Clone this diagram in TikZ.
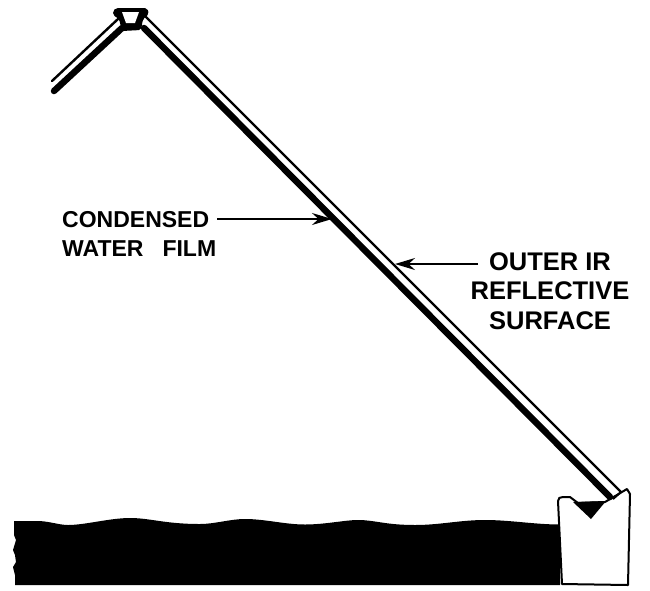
\documentclass[tikz,border=0pt]{standalone}
\usepackage{fontspec}
\setmainfont{Liberation Sans}[BoldFont={Liberation Sans Bold}]
\usetikzlibrary{arrows.meta}
\tikzset{
	label text/.style={inner sep=0pt, font=\fontsize{23}{29}\selectfont\bfseries},
	large text/.style={inner sep=0pt, font=\fontsize{25.5}{29.5}\selectfont\bfseries},
	thin wall/.style={line width=2.4pt, line cap=round, line join=round},
	thick wall/.style={line width=6.5pt, line cap=round, line join=round},
	pointer/.style={line width=1.5pt, -{Stealth[length=20pt,width=12pt]}},
}
\begin{document}
\begin{tikzpicture}[x=1pt, y=-1pt]
	\useasboundingbox (0,0) rectangle (650,590);
	% water
	\fill (14,521) -- (40,521) .. controls (52,522) and (60,525) .. (68,525)
		.. controls (85,525) and (110,518) .. (130,518)
		.. controls (150,518) and (165,524) .. (200,524)
		.. controls (215,524) and (230,519) .. (245,519)
		.. controls (265,519) and (285,524.5) .. (305,524.5)
		.. controls (325,524.5) and (345,520) .. (358,520)
		.. controls (375,520) and (385,525) .. (415,525)
		.. controls (440,525) and (460,520) .. (485,520)
		.. controls (510,520) and (535,524.5) .. (560,524.5)
		-- (560,585) -- (15,585) -- (15,575) -- (13,567) -- (16,562) -- (15,555) -- (13,550) -- (16,540) -- (14,535) -- cycle;
	% trough
	\draw[fill=white, line width=2pt, line join=round] (558,501) .. controls (558,498) and (560,497) .. (563,497)
		-- (570,497) -- (578,503) -- (605,502) -- (627,489) -- (630,494) -- (628,585) -- (562,584) -- cycle;
	\fill (573,502) -- (606,501) -- (591,519) -- cycle;
	% cover, left side
	\draw[thin wall] (52,81) -- (118,19);
	\draw[thick wall] (54,91) -- (122,28);
	% cover, right side
	\draw[thin wall] (145,16) -- (621,492);
	\draw[thick wall] (144,28) -- (610,497);
	\draw[line width=2pt] (621,492) -- (613,499);
	% ridge
	\fill[rounded corners=2pt] (113,11) -- (116,8) -- (147,8) -- (149,14) -- (143,19) -- (141,30) -- (122,31) -- (119,19) -- (113,15) -- cycle;
	\fill[white] (122,12) -- (139,12) -- (135,23) -- (126,23) -- cycle;
	% labels
	\node[label text, align=left, anchor=north west] (film) at (62,211.5) {CONDENSED\\WATER\hspace{19pt}FILM};
	\node[large text, align=center, anchor=north] (outer) at (550,252) {OUTER IR\\REFLECTIVE\\SURFACE};
	\coordinate (filmfrom) at (217,219);
	\coordinate (filmtip) at (332,219);
	\coordinate (outerfrom) at (478,264);
	\coordinate (outertip) at (395,264);
	\draw[pointer] (filmfrom) -- (filmtip);
	\draw[pointer] (outerfrom) -- (outertip);
\end{tikzpicture}
\end{document}
